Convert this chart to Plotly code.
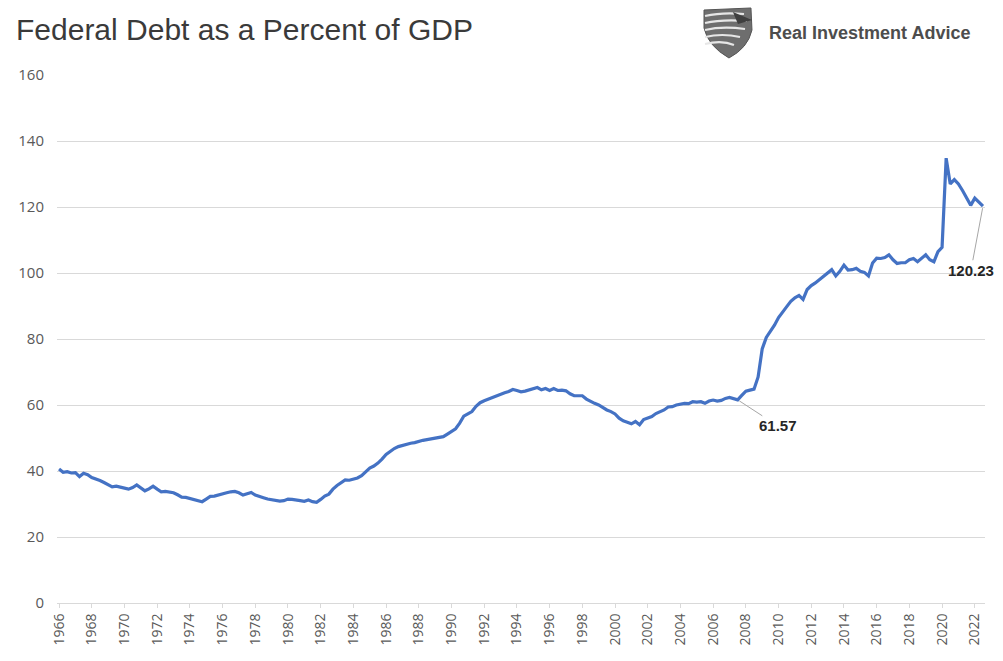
import plotly.graph_objects as go

# Federal debt as a percent of GDP, quarterly, 1966 Q1 - 2022 Q3
first_year = 1966
debt_pct = [
    40.6, 39.6, 39.8, 39.4,   # 1966
    39.5, 38.3, 39.3, 38.9,   # 1967
    38.0, 37.6, 37.1, 36.5,   # 1968
    35.8, 35.2, 35.4, 35.0,   # 1969
    34.8, 34.5, 35.0, 35.8,   # 1970
    34.9, 34.0, 34.6, 35.4,   # 1971
    34.5, 33.7, 33.8, 33.6,   # 1972
    33.4, 32.8, 32.1, 32.0,   # 1973
    31.7, 31.4, 30.9, 30.7,   # 1974
    31.5, 32.3, 32.4, 32.8,   # 1975
    33.1, 33.4, 33.7, 33.8,   # 1976
    33.4, 32.7, 33.1, 33.5,   # 1977
    32.7, 32.2, 31.9, 31.5,   # 1978
    31.3, 30.9, 30.9, 31.0,   # 1979
    31.5, 31.4, 31.3, 31.0,   # 1980
    30.8, 31.2, 30.7, 30.5,   # 1981
    31.4, 32.4, 33.0, 34.5,   # 1982
    35.6, 36.6, 37.3, 37.2,   # 1983
    37.5, 37.9, 38.6, 39.9,   # 1984
    40.9, 41.5, 42.4, 43.6,   # 1985
    45.0, 45.9, 46.8, 47.4,   # 1986
    47.8, 48.1, 48.4, 48.6,   # 1987
    49.0, 49.3, 49.5, 49.7,   # 1988
    49.8, 50.1, 50.4, 51.2,   # 1989
    52.0, 52.8, 54.5, 56.6,   # 1990
    57.3, 58.0, 59.6, 60.7,   # 1991
    61.3, 61.8, 62.3, 62.9,   # 1992
    63.4, 63.7, 64.1, 64.7,   # 1993
    64.4, 64.0, 64.2, 64.5,   # 1994
    64.9, 65.3, 64.6, 65.0,   # 1995
    64.4, 65.0, 64.4, 64.5,   # 1996
    64.3, 63.4, 62.8, 62.7,   # 1997
    62.8, 61.8, 61.1, 60.5,   # 1998
    60.0, 59.2, 58.5, 58.0,   # 1999
    57.3, 56.0, 55.2, 54.8,   # 2000
    54.3, 55.0, 54.0, 55.6,   # 2001
    56.0, 56.5, 57.4, 58.0,   # 2002
    58.5, 59.4, 59.5, 60.0,   # 2003
    60.2, 60.5, 60.4, 61.0,   # 2004
    60.9, 61.0, 60.5, 61.2,   # 2005
    61.5, 61.2, 61.4, 62.0,   # 2006
    62.3, 62.0, 61.57, 62.9,  # 2007
    64.2, 64.5, 64.8, 68.5,   # 2008
    77.0, 80.5, 82.3, 84.2,   # 2009
    86.5, 88.3, 89.8, 91.4,   # 2010
    92.5, 93.2, 92.0, 95.0,   # 2011
    96.2, 97.0, 98.0, 99.0,   # 2012
    100.2, 101.0, 99.1, 100.5,  # 2013
    102.4, 100.9, 101.0, 101.4,  # 2014
    100.5, 100.2, 99.1, 103.0,   # 2015
    104.5, 104.4, 104.7, 105.5,  # 2016
    104.0, 102.9, 103.1, 103.1,  # 2017
    104.0, 104.4, 103.4, 104.5,  # 2018
    105.5, 104.0, 103.4, 106.5,  # 2019
    107.8, 134.8, 127.0, 128.3,  # 2020
    127.0, 125.0, 122.5, 120.5,  # 2021
    122.7, 121.3, 120.23,        # 2022
]

# Quarter labels and the biennial tick labels on the category axis
quarters = [f"{first_year + i // 4} Q{i % 4 + 1}" for i in range(len(debt_pct))]
tick_years = [str(y) for y in range(1966, 2023, 2)]
tick_index = [quarters.index(f"{y} Q1") for y in tick_years]

# Points that carry a value label
labelled_quarters = ["2007 Q3", "2022 Q3"]

x_idx = list(range(len(quarters)))

fig = go.Figure()
fig.add_trace(go.Scatter(
    x=x_idx, y=debt_pct, mode="lines",
    customdata=quarters,
    line=dict(color="#4472C4", width=3.2),
    hovertemplate="%{customdata}: %{y:.2f}<extra></extra>",
))

label_offsets = {"2007 Q3": (40, 26), "2022 Q3": (-12, 64)}
for q in labelled_quarters:
    i = quarters.index(q)
    ax, ay = label_offsets[q]
    fig.add_annotation(
        x=i, y=debt_pct[i], text=f"<b>{debt_pct[i]:.2f}</b>",
        showarrow=True, arrowhead=0, arrowwidth=1, arrowcolor="#a6a6a6",
        ax=ax, ay=ay, standoff=2,
        font=dict(family="Liberation Sans, Arial", size=15, color="#262626"),
    )

# Title and brand mark
fig.add_annotation(
    xref="paper", yref="paper", x=-0.046, y=1.086, xanchor="left", yanchor="middle",
    text="Federal Debt as a Percent of GDP", showarrow=False,
    font=dict(family="Liberation Sans, Arial", size=30, color="#3a3a3a"),
)
fig.add_annotation(
    xref="paper", yref="paper", x=0.765, y=1.080, xanchor="left", yanchor="middle",
    text="<b>Real Investment Advice</b>", showarrow=False,
    font=dict(family="Liberation Sans, Arial", size=18, color="#4d4d4d"),
)

# Shield-shaped emblem next to the brand name (pixel space -> paper space)
def px(xp, yp):
    return f"{(xp - 57) / 928:.4f},{(603 - yp) / 528:.4f}"

shield = ("M " + px(704, 10) + " L " + px(751, 8) + " L " + px(752, 30)
          + " Q " + px(748, 48) + " " + px(729, 58)
          + " Q " + px(708, 46) + " " + px(704, 28) + " Z")
fig.add_shape(type="path", xref="paper", yref="paper", path=shield,
              fillcolor="#6e6e6e", line=dict(color="#555555", width=1), layer="above")
for y0, y1, x1 in [(16, 14, 744), (23, 21, 747), (30, 29, 745), (37, 37, 740), (44, 45, 734)]:
    fig.add_shape(type="path", xref="paper", yref="paper",
                  path="M " + px(705, y0) + " Q " + px(722, y0 - 4) + " " + px(x1, y1),
                  line=dict(color="#e6e6e6", width=2.2), layer="above")
fig.add_shape(type="path", xref="paper", yref="paper",
              path="M " + px(733, 12) + " L " + px(752, 20) + " L " + px(738, 24) + " Z",
              fillcolor="#3f3f3f", line=dict(width=0), layer="above")

fig.update_layout(
    width=1003, height=661,
    margin=dict(l=57, r=18, t=75, b=58),
    paper_bgcolor="white", plot_bgcolor="white",
    showlegend=False,
    font=dict(family="Open Sans, Liberation Sans, Arial", color="#595959"),
    xaxis=dict(
        range=[-0.5, len(quarters) - 0.5],
        tickmode="array", tickvals=tick_index, ticktext=tick_years,
        tickangle=-90, tickfont=dict(size=14, color="#595959"),
        showgrid=False, zeroline=False,
        showline=True, linecolor="#d9d9d9", linewidth=1,
        ticks="outside", ticklen=4, tickcolor="#d9d9d9",
    ),
    yaxis=dict(
        range=[0, 160], dtick=20,
        tickfont=dict(size=15, color="#595959"),
        showgrid=True, gridcolor="#d9d9d9", gridwidth=1,
        zeroline=False, showline=False, ticks="",
        ticklabelstandoff=12,
    ),
)

fig.write_html("out.html")
